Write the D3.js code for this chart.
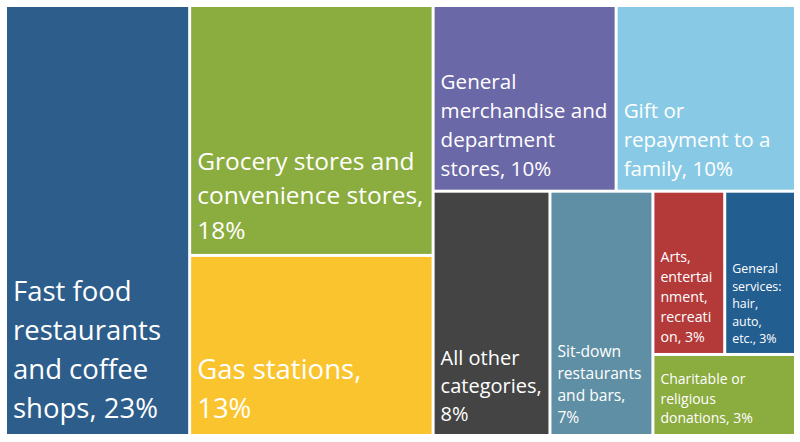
<!DOCTYPE html>
<html>
<head>
<meta charset="utf-8">
<script src="https://cdn.jsdelivr.net/npm/d3@7"></script>
<style>
  html, body { margin: 0; padding: 0; background: #ffffff; }
  svg { display: block; }
  text { font-family: "Open Sans", "Noto Sans", sans-serif; fill: #ffffff; }
</style>
</head>
<body>
<svg id="chart" width="800" height="442"></svg>
<script>
// ---- data ----
const categories = [
  "Fast food restaurants and coffee shops",
  "Grocery stores and convenience stores",
  "Gas stations",
  "General merchandise and department stores",
  "Gift or repayment to a family",
  "All other categories",
  "Sit-down restaurants and bars",
  "Arts, entertainment, recreation",
  "General services: hair, auto, etc.",
  "Charitable or religious donations"
];
const shares = [23.3, 17.9, 12.9, 10.0, 9.8, 8.4, 7.4, 3.45, 3.4, 3.4];
const labelLines = [
  ["Fast food", "restaurants", "and coffee", "shops, 23%"],
  ["Grocery stores and", "convenience stores,", "18%"],
  ["Gas stations,", "13%"],
  ["General", "merchandise and", "department", "stores, 10%"],
  ["Gift or", "repayment to a", "family, 10%"],
  ["All other", "categories,", "8%"],
  ["Sit-down", "restaurants", "and bars,", "7%"],
  ["Arts,", "entertai", "nment,", "recreati", "on, 3%"],
  ["General", "services:", "hair,", "auto,", "etc., 3%"],
  ["Charitable or", "religious", "donations, 3%"]
];
// grouping of category indices (nesting order of the treemap)
const layoutTree = [0, [1, 2], [[3, 4], [5, 6, [[7, 8], 9]]]];

// ---- styles ----
const colors = ["#2D5D8A", "#8BAC3E", "#FAC42E", "#6B68A8", "#88CAE5",
                "#444444", "#5F8FA4", "#B43A3A", "#235E91", "#8BAC3E"];
const fontSizes = [27.5, 24.5, 27.5, 20.6, 20.6, 20, 15.6, 14.2, 12.4, 14];

const margin = { left: 7, top: 7 };
const width = 787, height = 427;

function build(node) {
  return Array.isArray(node) ? { children: node.map(build) } : { idx: node };
}

const root = d3.hierarchy(build(layoutTree))
  .sum(d => d.idx !== undefined ? shares[d.idx] : 0);

d3.treemap()
  .tile(d3.treemapSliceDice)
  .size([width, height])
  .paddingInner(3)
  .round(false)(root);

const svg = d3.select("#chart");
const g = svg.append("g").attr("transform", `translate(${margin.left},${margin.top})`);

const leaves = g.selectAll("g.leaf")
  .data(root.leaves())
  .join("g")
  .attr("class", "leaf");

leaves.append("rect")
  .attr("x", d => d.x0)
  .attr("y", d => d.y0)
  .attr("width", d => d.x1 - d.x0)
  .attr("height", d => d.y1 - d.y0)
  .attr("fill", d => colors[d.data.idx]);

leaves.each(function(d) {
  const i = d.data.idx;
  const fs = fontSizes[i];
  const lh = 1.41 * fs;
  const lines = labelLines[i];
  const lastBase = d.y1 - (4.5 + 0.43 * fs);
  const t = d3.select(this).append("text")
    .attr("font-size", fs + "px")
    .attr("aria-label", categories[i]);
  lines.forEach((line, k) => {
    t.append("tspan")
      .attr("x", d.x0 + 6)
      .attr("y", lastBase - (lines.length - 1 - k) * lh)
      .text(line);
  });
});
</script>
</body>
</html>
